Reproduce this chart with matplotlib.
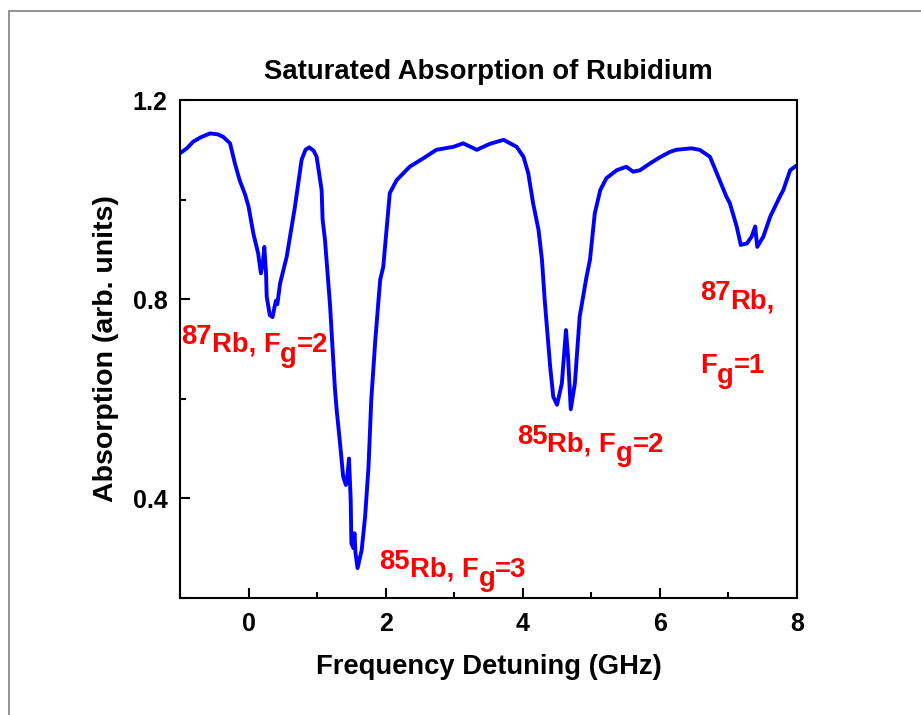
import matplotlib
matplotlib.use('Agg')
import matplotlib.pyplot as plt
from matplotlib.patches import Rectangle
from matplotlib.ticker import MultipleLocator

plt.rcParams['font.family'] = ['Liberation Sans', 'DejaVu Sans']
plt.rcParams['font.weight'] = 'bold'

detuning = [-1.00, -0.90, -0.81, -0.70, -0.56, -0.45, -0.37, -0.27, -0.20, -0.13,
            -0.05, 0.00, 0.07, 0.14, 0.18, 0.21, 0.23, 0.255, 0.265, 0.31,
            0.35, 0.38, 0.40, 0.42, 0.46, 0.556, 0.677, 0.774, 0.83, 0.886,
            0.95, 0.993, 1.066, 1.08, 1.115, 1.19, 1.26, 1.285, 1.33, 1.38,
            1.42, 1.445, 1.465, 1.49, 1.50, 1.53, 1.545, 1.56, 1.59, 1.65,
            1.70, 1.75, 1.79, 1.85, 1.92, 1.965, 2.06, 2.16, 2.35, 2.55,
            2.74, 2.99, 3.13, 3.33, 3.52, 3.72, 3.91, 4.01, 4.08, 4.15,
            4.23, 4.28, 4.32, 4.40, 4.445, 4.50, 4.57, 4.63, 4.66, 4.70,
            4.76, 4.83, 4.93, 4.98, 5.05, 5.13, 5.22, 5.37, 5.51, 5.61,
            5.71, 5.86, 6.00, 6.15, 6.24, 6.46, 6.58, 6.73, 6.83, 6.97,
            7.02, 7.12, 7.18, 7.27, 7.34, 7.39, 7.42, 7.51, 7.61, 7.75,
            7.80, 7.90, 8.00]
absorption = [1.093, 1.103, 1.116, 1.125, 1.133, 1.131, 1.126, 1.113, 1.073, 1.039,
              1.010, 0.986, 0.932, 0.892, 0.852, 0.875, 0.905, 0.852, 0.805, 0.768,
              0.764, 0.785, 0.797, 0.790, 0.832, 0.885, 0.986, 1.080, 1.100, 1.105,
              1.098, 1.086, 1.019, 0.960, 0.919, 0.785, 0.620, 0.578, 0.517, 0.444,
              0.427, 0.450, 0.480, 0.397, 0.310, 0.300, 0.330, 0.290, 0.260, 0.296,
              0.363, 0.464, 0.598, 0.720, 0.839, 0.865, 1.013, 1.039, 1.066, 1.083,
              1.100, 1.106, 1.113, 1.100, 1.112, 1.120, 1.106, 1.086, 1.053, 0.993,
              0.939, 0.879, 0.798, 0.664, 0.604, 0.588, 0.631, 0.738, 0.685, 0.579,
              0.631, 0.765, 0.845, 0.879, 0.972, 1.019, 1.043, 1.059, 1.066, 1.056,
              1.059, 1.073, 1.085, 1.096, 1.100, 1.103, 1.100, 1.086, 1.053, 1.006,
              0.993, 0.946, 0.909, 0.912, 0.926, 0.946, 0.905, 0.926, 0.966, 1.006,
              1.019, 1.059, 1.069]

# Peak labels: (x, y, [(text, vertical shift in points), ...])
labels = [
    (-0.985, 0.694, [('87', 5.8), ('Rb, F', 0), ('g', -7.0), ('=2', 0)]),
    (1.903, 0.243, [('85', 5.8), ('Rb, F', 0), ('g', -7.0), ('=3', 0)]),
    (3.911, 0.494, [('85', 5.8), ('Rb, F', 0), ('g', -7.0), ('=2', 0)]),
    (6.585, 0.782, [('87', 5.8), ('Rb,', 0)]),
    (6.585, 0.652, [('F', 0), ('g', -7.0), ('=1', 0)]),
]


def rich_label(ax, x, y, pieces, size=19.8, color='red'):
    """Chain text pieces so super/subscripts keep full size."""
    prev, prev_dy = None, 0
    for s, dy in pieces:
        if prev is None:
            t = ax.annotate(s, xy=(x, y), xytext=(0, dy), textcoords='offset points',
                            va='baseline', ha='left', fontsize=size,
                            fontweight='bold', color=color)
        else:
            t = ax.annotate(s, xy=(1, 0), xycoords=prev, xytext=(0, dy - prev_dy),
                            textcoords='offset points', va='bottom', ha='left',
                            fontsize=size, fontweight='bold', color=color)
        prev, prev_dy = t, dy


fig = plt.figure(figsize=(9.21, 7.15), dpi=100)
ax = fig.add_axes([180 / 921, 117 / 715, 617 / 921, 498 / 715])

ax.plot(detuning, absorption, color='#0000FF', linewidth=2.8, solid_joinstyle='round')

ax.set_xlim(-1, 8)
ax.set_ylim(0.2, 1.2)
ax.xaxis.set_major_locator(MultipleLocator(2))
ax.xaxis.set_minor_locator(MultipleLocator(1))
ax.yaxis.set_minor_locator(MultipleLocator(0.2))
ax.set_yticks([0.4, 0.8, 1.2])
ax.set_yticklabels(['0.4', '0.8', '1.2'])

ax.tick_params(which='both', direction='in', top=False, right=False, width=1.5)
ax.tick_params(which='major', length=7.2, labelsize=18)
ax.tick_params(which='minor', length=4.3)
ax.tick_params(axis='x', which='major', pad=10)
ax.tick_params(axis='y', which='major', pad=9)
for lab in ax.get_xticklabels() + ax.get_yticklabels():
    lab.set_fontweight('bold')
for sp in ax.spines.values():
    sp.set_linewidth(1.5)

ax.set_xlabel('Frequency Detuning (GHz)', fontsize=19.7, fontweight='bold', labelpad=13)
ax.set_ylabel('Absorption (arb. units)', fontsize=20.5, fontweight='bold', labelpad=10)
ax.set_title('Saturated Absorption of Rubidium', fontsize=19.8, fontweight='bold', pad=15)

for x, y, pieces in labels:
    rich_label(ax, x, y, pieces)

# thin grey frame around the figure (only left/top visible)
fig.patches.append(Rectangle((9 / 921, -0.1), 1.2, 1.1 - 11 / 715, transform=fig.transFigure,
                             fill=False, edgecolor='#808080', linewidth=1.2))

fig.savefig('out.png', dpi=100)
plt.close(fig)
